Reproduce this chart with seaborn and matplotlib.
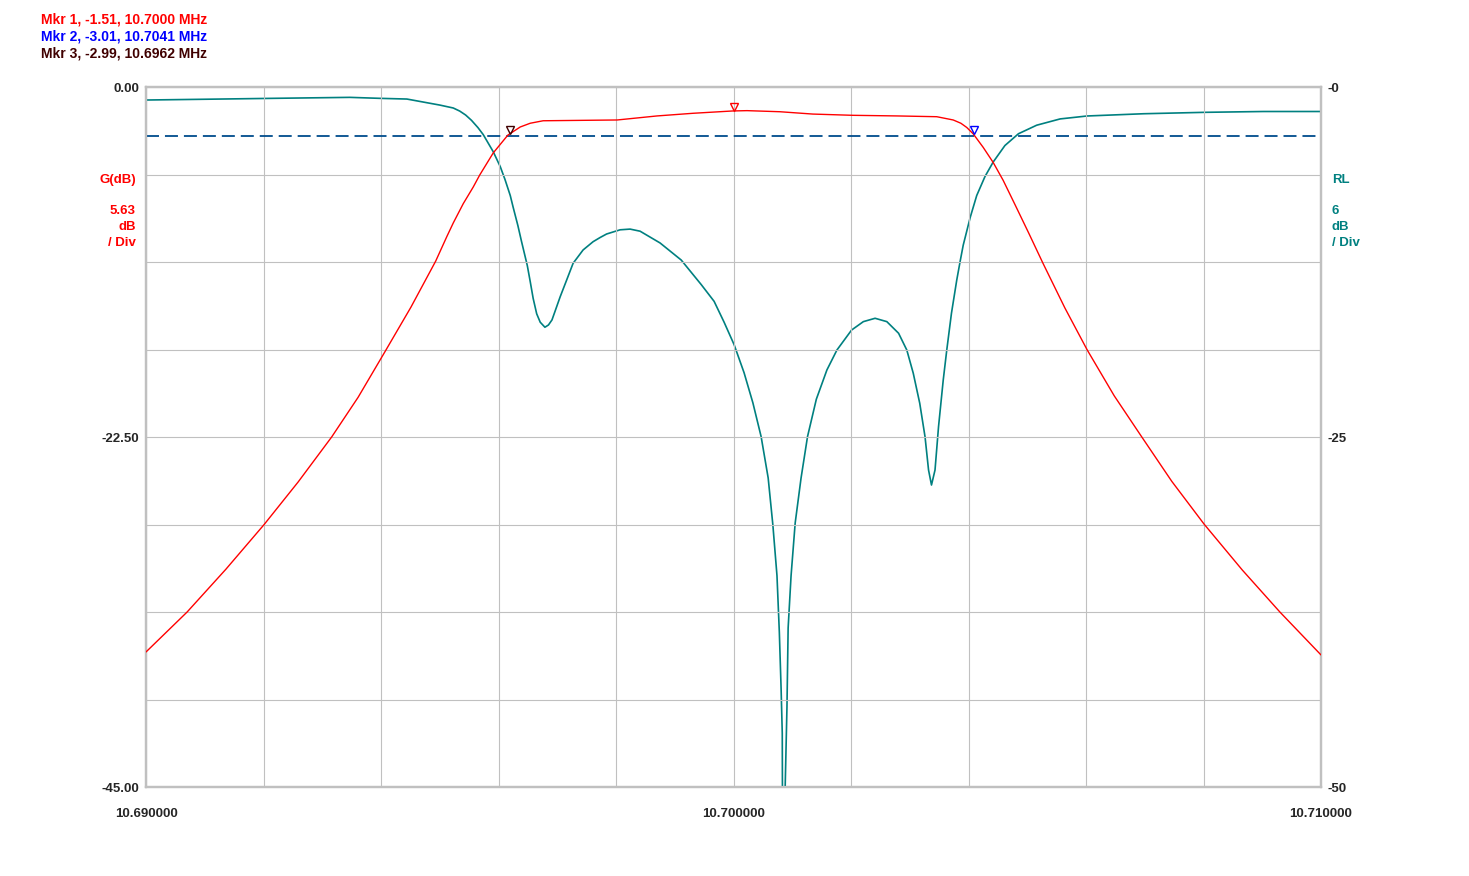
import numpy as np
import pandas as pd
import seaborn as sns
import matplotlib.pyplot as plt
from matplotlib import transforms

# ==========================================
# DATA
# ==========================================

# transmission / gain trace, left axis
freq_gain = [10.69000, 10.69070, 10.69136, 10.69201, 10.69259, 10.69316,
             10.69361, 10.69407, 10.69451, 10.69493, 10.69512, 10.69523,
             10.69540, 10.69557, 10.69568, 10.69591, 10.69616, 10.69637,
             10.69654, 10.69676, 10.69802, 10.69870, 10.69931, 10.69999,
             10.70023, 10.70079, 10.70135, 10.70203, 10.70278, 10.70346,
             10.70374, 10.70387, 10.70397, 10.70408, 10.70425, 10.70442,
             10.70459, 10.70479, 10.70503, 10.70527, 10.70564, 10.70602,
             10.70648, 10.70695, 10.70746, 10.70801, 10.70866, 10.70930,
             10.71000]
gain_db = [-36.32, -33.75, -31.00, -28.13, -25.39, -22.50,
           -19.95, -17.00, -14.15, -11.20, -9.62, -8.74,
           -7.50, -6.43, -5.66, -4.24, -3.09, -2.57,
           -2.33, -2.17, -2.12, -1.86, -1.69, -1.54,
           -1.52, -1.59, -1.74, -1.82, -1.86, -1.91,
           -2.12, -2.33, -2.60, -3.01, -3.88, -4.85,
           -6.00, -7.55, -9.43, -11.35, -14.20, -16.90,
           -19.85, -22.50, -25.35, -28.10, -31.05, -33.75,
           -36.51]

# return loss trace, right axis
freq_rl = [10.69000, 10.69092, 10.69216, 10.69347, 10.69398, 10.69444,
           10.69483, 10.69500, 10.69523, 10.69534, 10.69544, 10.69554,
           10.69565, 10.69574, 10.69591, 10.69603, 10.69611, 10.69620,
           10.69625, 10.69633, 10.69639, 10.69649, 10.69654, 10.69659,
           10.69665, 10.69671, 10.69679, 10.69685, 10.69691, 10.69696,
           10.69705, 10.69716, 10.69727, 10.69744, 10.69761, 10.69773,
           10.69784, 10.69807, 10.69824, 10.69841, 10.69875, 10.69911,
           10.69945, 10.69967, 10.69984, 10.70001, 10.70018, 10.70033,
           10.70047, 10.70059, 10.70067, 10.70074, 10.70078, 10.70081,
           10.70083, 10.70084, 10.70088, 10.70091, 10.70093, 10.70098,
           10.70105, 10.70115, 10.70126, 10.70141, 10.70159, 10.70176,
           10.70201, 10.70221, 10.70241, 10.70261, 10.70281, 10.70295,
           10.70306, 10.70317, 10.70326, 10.70332, 10.70337, 10.70343,
           10.70349, 10.70357, 10.70363, 10.70371, 10.70380, 10.70386,
           10.70391, 10.70403, 10.70414, 10.70428, 10.70442, 10.70462,
           10.70485, 10.70516, 10.70556, 10.70602, 10.70698, 10.70801,
           10.70902, 10.71000]
rl_db = [-0.93, -0.88, -0.81, -0.74, -0.81, -0.86,
         -1.16, -1.29, -1.50, -1.72, -2.00, -2.38,
         -2.90, -3.40, -4.62, -5.69, -6.60, -7.75,
         -8.60, -9.90, -11.00, -12.75, -13.90, -15.10,
         -16.20, -16.80, -17.16, -17.00, -16.64, -16.05,
         -14.98, -13.79, -12.59, -11.64, -11.05, -10.75,
         -10.50, -10.20, -10.15, -10.30, -11.14, -12.36,
         -14.11, -15.31, -16.80, -18.40, -20.41, -22.56,
         -24.97, -27.92, -31.28, -34.90, -38.92, -42.94,
         -46.16, -60.00, -49.93, -44.29, -38.64, -34.90,
         -31.14, -27.93, -24.97, -22.30, -20.21, -18.79,
         -17.36, -16.76, -16.52, -16.76, -17.59, -18.79,
         -20.45, -22.59, -24.98, -27.36, -28.43, -27.36,
         -24.26, -20.93, -18.79, -16.16, -13.79, -12.40,
         -11.30, -9.30, -7.75, -6.40, -5.36, -4.18,
         -3.34, -2.73, -2.28, -2.07, -1.91, -1.81,
         -1.75, -1.75]

marker_names = ["Mkr 1", "Mkr 2", "Mkr 3"]
marker_freq = [10.7000, 10.7041, 10.6962]
marker_val = [-1.51, -3.01, -2.99]
marker_colors = ["#ff0000", "#0000ff", "#400000"]

ref_level = -3.15

gain_ticks = np.linspace(-45, 0, 9)
gain_labels = ["-45.00", "", "", "", "-22.50", "", "", "", "0.00"]
rl_ticks = np.linspace(-50, 0, 9)
rl_labels = ["-50", "", "", "", "-25", "", "", "", "-0"]
freq_ticks = np.linspace(10.69, 10.71, 11)
freq_labels = ["10.690000", "", "", "", "", "10.700000",
               "", "", "", "", "10.710000"]

gain_info = ["G(dB)", "5.63", "dB", "/ Div"]
rl_info = ["RL", "6", "dB", "/ Div"]

RED = "#ff0000"
TEAL = "#008080"
GRID = "#c0c0c0"

# ==========================================
# FIGURE
# ==========================================

sns.set_style("white")
plt.rcParams["font.family"] = ["Liberation Sans", "DejaVu Sans"]
plt.rcParams["font.weight"] = "bold"

W, H = 1469, 876
fig = plt.figure(figsize=(W / 100, H / 100), dpi=100)
ax = fig.add_axes([146 / W, 1 - 787 / H, 1175 / W, 700 / H])
ax2 = ax.twinx()

df_gain = pd.DataFrame({"freq": freq_gain, "gain": gain_db})
df_rl = pd.DataFrame({"freq": freq_rl, "rl": rl_db})

ax.axhline(ref_level, color="#004c8c", lw=1.3, linestyle=(0, (7.2, 3.3)), zorder=2)

sns.lineplot(data=df_rl, x="freq", y="rl", ax=ax2, color=TEAL, lw=1.2,
             estimator=None, zorder=3)
sns.lineplot(data=df_gain, x="freq", y="gain", ax=ax, color=RED, lw=1.0,
             estimator=None, zorder=4)

# marker triangles sit just above the trace point
mk_trans = transforms.offset_copy(ax.transData, fig=fig, x=0, y=2.4, units="points")
for f, v, c in zip(marker_freq, marker_val, marker_colors):
    ax.plot(f, v, marker="v", ms=5.5, mfc="none", mec=c, mew=1.0,
            transform=mk_trans, zorder=6, clip_on=False)

ax2.set_zorder(ax.get_zorder() - 1)
ax.patch.set_visible(False)

# ==========================================
# AXES
# ==========================================

ax.set_xlim(10.69, 10.71)
ax.set_ylim(-45, 0)
ax2.set_ylim(-50, 0)

ax.set_xticks(freq_ticks)
ax.set_xticklabels(freq_labels)
ax.set_yticks(gain_ticks)
ax.set_yticklabels(gain_labels)
ax2.set_yticks(rl_ticks)
ax2.set_yticklabels(rl_labels)
ax.set_xticks([10.70], minor=True)

ax.grid(True, which="major", color=GRID, lw=0.8)
ax2.grid(False)

ax.set_xlabel("")
ax.set_ylabel("")
ax2.set_ylabel("")

ax.tick_params(axis="x", which="major", length=0, pad=15, labelsize=9.5)
ax.tick_params(axis="x", which="minor", length=7, width=1.5, color=GRID)
ax.tick_params(axis="y", length=0, pad=5, labelsize=9.5)
ax2.tick_params(axis="y", length=0, pad=5, labelsize=9.5)

for a in (ax, ax2):
    for s in a.spines.values():
        s.set_color(GRID)
        s.set_linewidth(1.6)

# ==========================================
# TEXT
# ==========================================

for i, (n, f, v, c) in enumerate(zip(marker_names, marker_freq, marker_val, marker_colors)):
    fig.text(41 / W, 1 - (20 + 16.5 * i) / H, f"{n}, {v:.2f}, {f:.4f} MHz",
             color=c, fontsize=10, fontweight="bold", va="center", ha="left")

info_y = [180, 211, 227, 243]
for t, y in zip(gain_info, info_y):
    fig.text(136 / W, 1 - y / H, t, color=RED, fontsize=9.5,
             fontweight="bold", ha="right", va="center")
for t, y in zip(rl_info, info_y):
    fig.text(1332 / W, 1 - y / H, t, color=TEAL, fontsize=9.5,
             fontweight="bold", ha="left", va="center")

plt.savefig("out.png", dpi=100)
